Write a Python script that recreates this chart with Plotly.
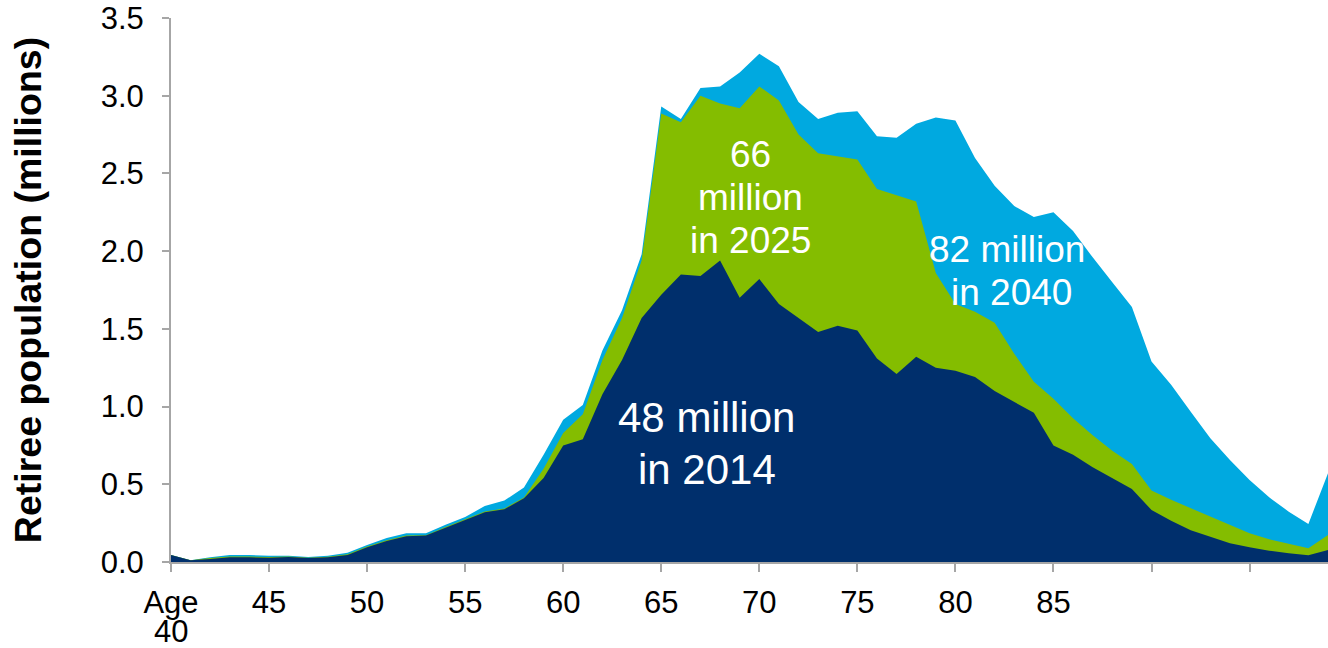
import plotly.graph_objects as go

# Retiree population by single year of age (millions)
ages = list(range(40, 100))

pop_2014 = [0.045, 0.012, 0.020, 0.030, 0.030, 0.028, 0.032, 0.025, 0.030, 0.045,
            0.095, 0.135, 0.165, 0.170, 0.220, 0.270, 0.320, 0.340, 0.410, 0.540,
            0.750, 0.790, 1.080, 1.300, 1.570, 1.720, 1.850, 1.840, 1.940, 1.700,
            1.820, 1.660, 1.570, 1.480, 1.520, 1.490, 1.310, 1.210, 1.320, 1.250,
            1.230, 1.190, 1.100, 1.030, 0.960, 0.750, 0.690, 0.610, 0.540, 0.470,
            0.335, 0.265, 0.205, 0.160, 0.120, 0.095, 0.073, 0.056, 0.043, 0.077]

pop_2025 = [0.045, 0.012, 0.025, 0.035, 0.035, 0.032, 0.035, 0.028, 0.033, 0.050,
            0.100, 0.140, 0.170, 0.172, 0.225, 0.275, 0.325, 0.345, 0.415, 0.600,
            0.830, 0.950, 1.300, 1.570, 1.940, 2.885, 2.830, 3.000, 2.950, 2.920,
            3.060, 2.970, 2.750, 2.630, 2.610, 2.590, 2.400, 2.360, 2.320, 1.860,
            1.660, 1.610, 1.540, 1.340, 1.160, 1.050, 0.925, 0.815, 0.715, 0.630,
            0.460, 0.400, 0.345, 0.290, 0.238, 0.185, 0.146, 0.116, 0.088, 0.174]

pop_2040 = [0.045, 0.012, 0.030, 0.045, 0.045, 0.040, 0.040, 0.032, 0.040, 0.060,
            0.110, 0.155, 0.185, 0.185, 0.240, 0.290, 0.360, 0.395, 0.480, 0.690,
            0.915, 1.010, 1.360, 1.620, 1.980, 2.930, 2.850, 3.050, 3.060, 3.150,
            3.270, 3.190, 2.960, 2.850, 2.890, 2.900, 2.740, 2.730, 2.820, 2.860,
            2.840, 2.600, 2.420, 2.290, 2.220, 2.250, 2.130, 1.960, 1.800, 1.640,
            1.290, 1.140, 0.967, 0.796, 0.656, 0.528, 0.416, 0.324, 0.245, 0.571]

tick_vals = [40, 45, 50, 55, 60, 65, 70, 75, 80, 85, 90, 95]
tick_text = ["Age", "45", "50", "55", "60", "65", "70", "75", "80", "85", "", ""]
first_age = "40"  # second line under the "Age" tick label

y_ticks = [0, 0.5, 1.0, 1.5, 2.0, 2.5, 3.0, 3.5]
y_tick_text = ["0.0", "0.5", "1.0", "1.5", "2.0", "2.5", "3.0", "3.5"]

COL_2040 = "#00A9E0"
COL_2025 = "#84BD00"
COL_2014 = "#002F6C"

FONT = "Liberation Sans, Arial, sans-serif"

fig = go.Figure()
for name, vals, col in [("2040", pop_2040, COL_2040),
                        ("2025", pop_2025, COL_2025),
                        ("2014", pop_2014, COL_2014)]:
    fig.add_trace(go.Scatter(
        x=ages, y=vals, name=name, mode="lines",
        line=dict(width=0, color=col),
        fill="tozeroy", fillcolor=col,
        hoverinfo="x+y+name",
    ))

# Total labels, one annotation per line for tight line spacing
label_lines = [
    ("66", 69.55, 2.625, 37),
    ("million", 69.55, 2.342, 37),
    ("in 2025", 69.55, 2.066, 37),
    ("48 million", 67.33, 0.927, 42),
    ("in 2014", 67.33, 0.598, 42),
    ("82 million", 82.65, 2.011, 37),
    ("in 2040", 82.85, 1.731, 37),
]
for text, x, y, size in label_lines:
    fig.add_annotation(x=x, y=y, text=text, showarrow=False,
                       font=dict(family=FONT, size=size, color="white"),
                       xanchor="center", yanchor="middle")

# Second line of the first x tick label
fig.add_annotation(x=tick_vals[0], xref="x", y=-0.127, yref="paper",
                   text=first_age, showarrow=False,
                   font=dict(family=FONT, size=31, color="black"),
                   xanchor="center", yanchor="middle")

fig.update_layout(
    width=1328, height=648,
    margin=dict(l=171, r=0, t=18, b=86),
    plot_bgcolor="white", paper_bgcolor="white",
    showlegend=False,
    font=dict(family=FONT, color="black"),
)

fig.update_xaxes(
    range=[40, 99], tickmode="array", tickvals=tick_vals, ticktext=tick_text,
    showgrid=False, zeroline=False, automargin=False,
    showline=True, linecolor="#A6A6A6", linewidth=2,
    ticks="outside", ticklen=8, tickwidth=2, tickcolor="#A6A6A6",
    tickfont=dict(family=FONT, size=31, color="black"),
    ticklabelstandoff=4,
)

fig.update_yaxes(
    range=[0, 3.5], tickmode="array", tickvals=y_ticks, ticktext=y_tick_text,
    showgrid=False, zeroline=False, automargin=False,
    showline=True, linecolor="#A6A6A6", linewidth=2,
    ticks="outside", ticklen=7, tickwidth=2, tickcolor="#A6A6A6",
    tickfont=dict(family=FONT, size=31, color="black"),
    ticklabelstandoff=12,
    title=dict(text="<b>Retiree population (millions)</b>",
               font=dict(family=FONT, size=37.5, color="black"), standoff=48),
)

fig.write_html("out.html")
